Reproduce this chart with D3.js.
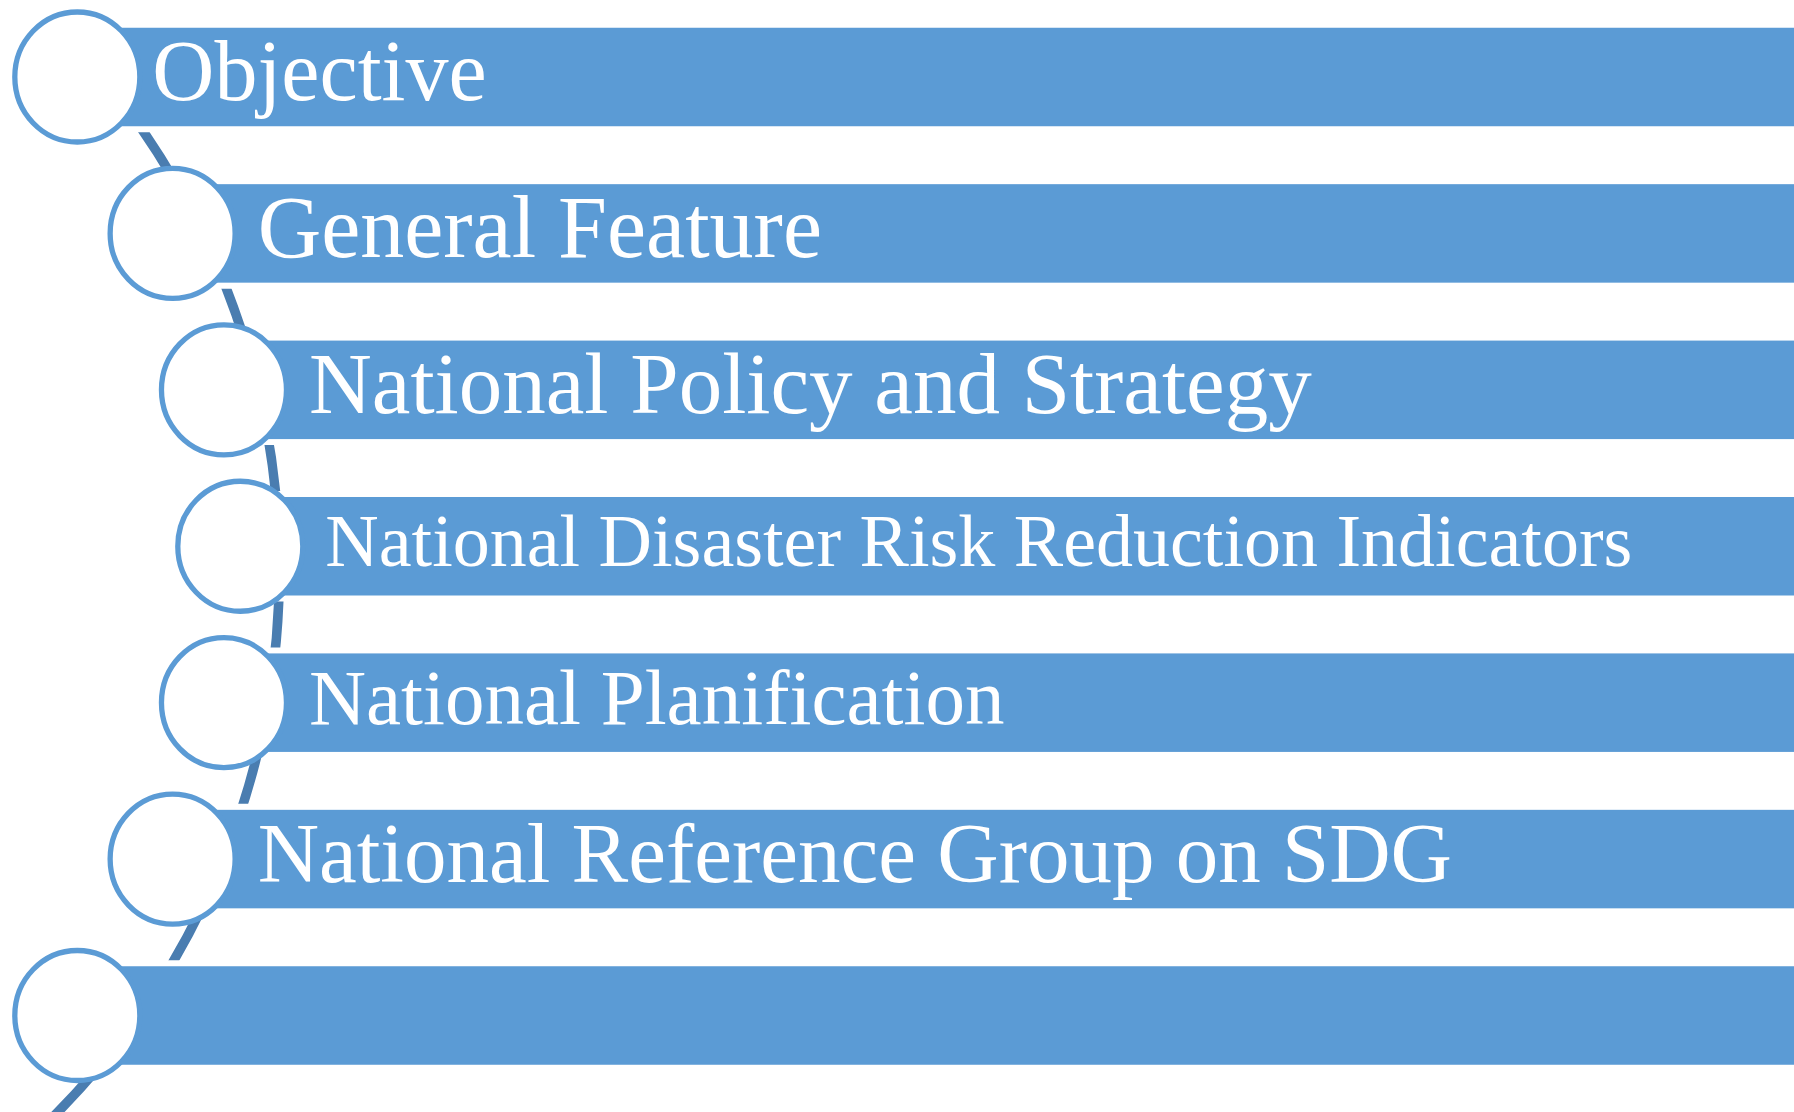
<!DOCTYPE html>
<html>
<head>
<meta charset="utf-8">
<script src="https://cdn.jsdelivr.net/npm/d3@7"></script>
<style>
  html, body { margin: 0; padding: 0; background: #ffffff; }
  svg { display: block; }
</style>
</head>
<body>
<div id="chart"></div>
<script>
// list items (top to bottom), the last one has no text
const labels = [
    "Objective",
    "General Feature",
    "National Policy and Strategy",
    "National Disaster Risk Reduction Indicators",
    "National Planification",
    "National Reference Group on SDG",
    ""
]
// text is shrunk to fit in some rows, like in the source
const fontSizes = [86, 88, 87, 74, 79, 85, 80]
// small horizontal nudge of the text per row
const labelDx = [-10, 0, 0, 0, 0, 0, 0]

const width = 1794, height = 1112
const barColor = "#5b9bd5"
const lineColor = "#4a7db0"

const svg = d3.select("#chart").append("svg")
    .attr("width", width)
    .attr("height", height)

/**
 * Layout: rows evenly spaced, circles follow an arc bulging to the right
 */
const rowY = d3.scaleLinear()
    .domain([0, labels.length - 1])
    .range([77, 1015.5])

const mid = (labels.length - 1) / 2
const nodeR = 757, nodeApex = 240.3
const nodeX = i => {
    const dy = rowY(i) - rowY(mid)
    return nodeApex - nodeR + Math.sqrt(nodeR * nodeR - dy * dy)
}
const barH = 98.5
const rx = 62.5, ry = 65

const rows = labels.map((d, i) => ({
    label: d,
    i: i,
    x: nodeX(i),
    y: rowY(i),
    size: fontSizes[i],
    dx: labelDx[i]
}))

/**
 * Connector arc, only visible in the gaps between bars
 */
const clip = svg.append("defs").append("clipPath").attr("id", "gaps")
const gapPad = 6
const bands = rows.map((r, i) => {
    const y0 = r.y + barH / 2 + gapPad
    const y1 = i < rows.length - 1 ? rows[i + 1].y - barH / 2 - gapPad : height
    return { y0, y1 }
})
clip.selectAll("rect")
    .data(bands)
    .enter().append("rect")
    .attr("x", 0)
    .attr("y", d => d.y0)
    .attr("width", width)
    .attr("height", d => Math.max(0, d.y1 - d.y0))

const arcPath = d3.path()
arcPath.arc(-494.6, 570, 774, -Math.PI / 2, Math.PI / 2)
svg.append("path")
    .attr("d", arcPath.toString())
    .attr("fill", "none")
    .attr("stroke", lineColor)
    .attr("stroke-width", 9.5)
    .attr("clip-path", "url(#gaps)")

/**
 * Bars
 */
svg.append("g").selectAll("rect")
    .data(rows)
    .enter().append("rect")
    .attr("x", d => d.x)
    .attr("y", d => d.y - barH / 2)
    .attr("width", d => width - d.x)
    .attr("height", barH)
    .attr("fill", barColor)

/**
 * Circles
 */
svg.append("g").selectAll("ellipse")
    .data(rows)
    .enter().append("ellipse")
    .attr("cx", d => d.x)
    .attr("cy", d => d.y)
    .attr("rx", rx)
    .attr("ry", ry)
    .attr("fill", "#ffffff")
    .attr("stroke", barColor)
    .attr("stroke-width", 5.3)

/**
 * Labels
 */
svg.append("g").selectAll("text")
    .data(rows)
    .enter().append("text")
    .attr("x", d => d.x + 85 + d.dx)
    .attr("y", d => d.y + d.size * 0.27)
    .attr("fill", "#ffffff")
    .attr("font-family", "'Liberation Serif', serif")
    .attr("font-size", d => d.size)
    .text(d => d.label)
</script>
</body>
</html>
